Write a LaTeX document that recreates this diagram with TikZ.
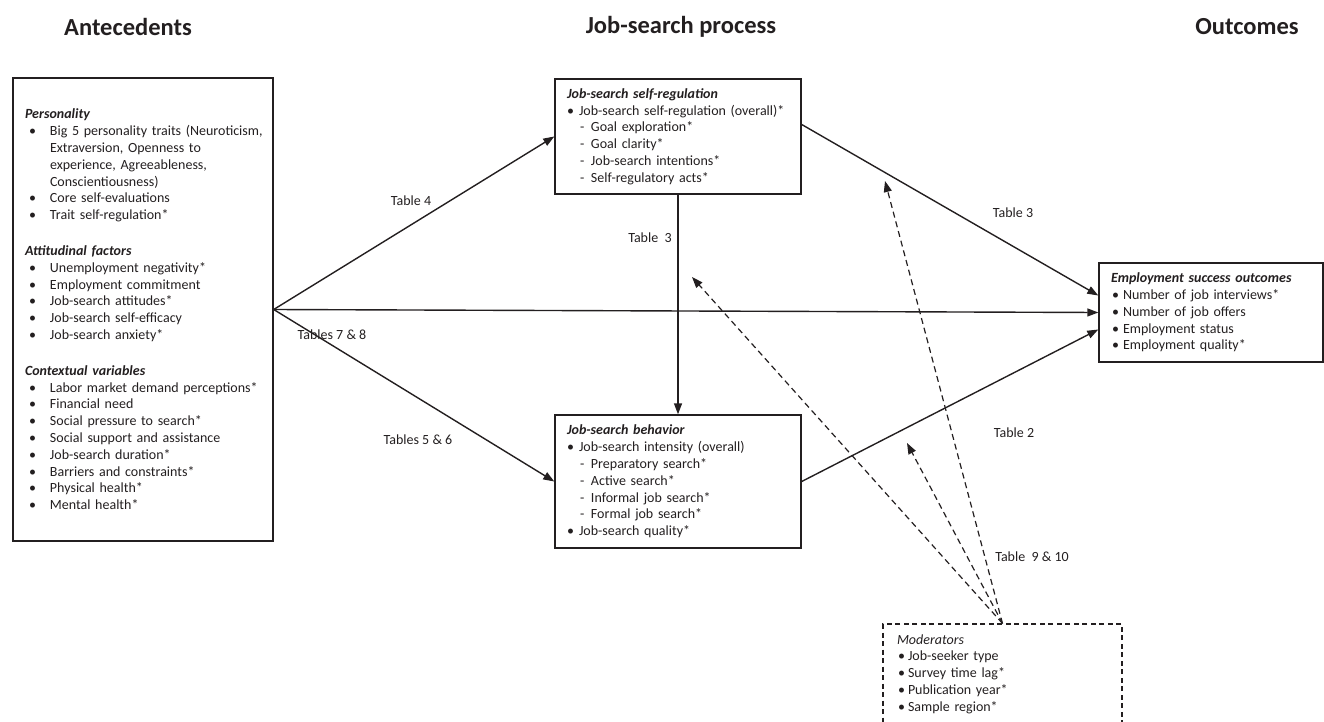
\documentclass[tikz,border=0pt]{standalone}
\usepackage{fontspec}
\setmainfont{Carlito}
\usetikzlibrary{arrows.meta}
\definecolor{ink}{RGB}{35,31,32}
\newcommand{\listmark}[3]{\makebox[#2][l]{\hspace*{#1}#3}}

\begin{document}
\begin{tikzpicture}[x=1pt, y=-1pt,
	every node/.style={text=ink, font=\fontsize{14}{16.8}\selectfont},
	box/.style={draw=ink, line width=1.4pt, align=left, inner xsep=12pt, inner ysep=0pt},
	modbox/.style={box, inner xsep=14pt, line width=1.1pt, dash pattern=on 5pt off 3.5pt},
	heading/.style={font=\fontsize{24.5}{29}\selectfont\bfseries},
	tablabel/.style={inner sep=0pt},
	link/.style={draw=ink, line width=1.4pt, -{Triangle[length=11pt, width=8pt]}},
	modlink/.style={link, line width=1.2pt, dash pattern=on 6pt off 4pt}
]
	\useasboundingbox (0,0) rectangle (1324,722);

	\node [heading] (hante) at (128,27) {Antecedents};
	\node [heading] (hproc) at (681,27) {Job-search process};
	\node [heading] (hout) at (1247,27) {Outcomes};

	\node [box, text width=236pt, minimum height=463pt] (ante) at (143,309.5) {%
		\textbf{\textit{Personality}}\\
		\listmark{4pt}{25pt}{•}\mbox{Big 5 personality traits (Neuroticism,}\\
		\hspace*{25pt}Extraversion, Openness to\\
		\hspace*{25pt}experience, Agreeableness,\\
		\hspace*{25pt}Conscientiousness)\\
		\listmark{4pt}{25pt}{•}Core self-evaluations\\
		\listmark{4pt}{25pt}{•}Trait self-regulation*\\[19pt]
		\textbf{\textit{Attitudinal factors}}\\
		\listmark{4pt}{25pt}{•}Unemployment negativity*\\
		\listmark{4pt}{25pt}{•}Employment commitment\\
		\listmark{4pt}{25pt}{•}Job-search attitudes*\\
		\listmark{4pt}{25pt}{•}Job-search self-efficacy\\
		\listmark{4pt}{25pt}{•}Job-search anxiety*\\[19pt]
		\textbf{\textit{Contextual variables}}\\
		\listmark{4pt}{25pt}{•}\mbox{Labor market demand perceptions*}\\
		\listmark{4pt}{25pt}{•}Financial need\\
		\listmark{4pt}{25pt}{•}Social pressure to search*\\
		\listmark{4pt}{25pt}{•}Social support and assistance\\
		\listmark{4pt}{25pt}{•}Job-search duration*\\
		\listmark{4pt}{25pt}{•}Barriers and constraints*\\
		\listmark{4pt}{25pt}{•}Physical health*\\
		\listmark{4pt}{25pt}{•}Mental health*};

	\node [box, text width=222pt, minimum height=115pt] (selfreg) at (678,136.5) {%
		\textbf{\textit{Job-search self-regulation}}\\
		\listmark{0pt}{12pt}{•}Job-search self-regulation (overall)*\\
		\listmark{13pt}{24pt}{-}Goal exploration*\\
		\listmark{13pt}{24pt}{-}Goal clarity*\\
		\listmark{13pt}{24pt}{-}Job-search intentions*\\
		\listmark{13pt}{24pt}{-}Self-regulatory acts*};

	\node [box, text width=222pt, minimum height=133pt] (behav) at (678,481.5) {%
		\textbf{\textit{Job-search behavior}}\\
		\listmark{0pt}{12pt}{•}Job-search intensity (overall)\\
		\listmark{13pt}{24pt}{-}Preparatory search*\\
		\listmark{13pt}{24pt}{-}Active search*\\
		\listmark{13pt}{24pt}{-}Informal job search*\\
		\listmark{13pt}{24pt}{-}Formal job search*\\
		\listmark{0pt}{12pt}{•}Job-search quality*};

	\node [box, text width=200pt, minimum height=99pt] (outc) at (1211,312.5) {%
		\textbf{\textit{Employment success outcomes}}\\
		\listmark{1pt}{12pt}{•}Number of job interviews*\\
		\listmark{1pt}{12pt}{•}Number of job offers\\
		\listmark{1pt}{12pt}{•}Employment status\\
		\listmark{1pt}{12pt}{•}Employment quality*};

	\node [modbox, text width=211pt, minimum height=100pt] (mod) at (1002.5,674) {%
		\textit{Moderators}\\
		\listmark{1pt}{11pt}{•}Job-seeker type\\
		\listmark{1pt}{11pt}{•}Survey time lag*\\
		\listmark{1pt}{11pt}{•}Publication year*\\
		\listmark{1pt}{11pt}{•}Sample region*};

	\draw [link] (ante.east) -- (selfreg.west);
	\draw [link] (ante.east) -- (behav.west);
	\draw [link] (ante.east) -- (outc.west);
	\draw [link] (selfreg.south) -- (behav.north);
	\draw [link] ([yshift=12pt]selfreg.east) -- ([yshift=17pt]outc.west);
	\draw [link] (behav.east) -- ([yshift=-17pt]outc.west);

	\coordinate (m1) at (885,181);
	\coordinate (m2) at (692,277);
	\coordinate (m3) at (907,443);
	\draw [modlink] (mod.north) -- (m1);
	\draw [modlink] (mod.north) -- (m2);
	\draw [modlink] (mod.north) -- (m3);

	\node [tablabel] (t4) at (411,201) {Table 4};
	\node [tablabel] (t78) at (332,335) {Tables 7 \& 8};
	\node [tablabel] (t56) at (418,440) {Tables 5 \& 6};
	\node [tablabel] (t3a) at (650,238) {Table\ \ 3};
	\node [tablabel] (t3b) at (1013,213) {Table 3};
	\node [tablabel] (t2) at (1014,433) {Table 2};
	\node [tablabel] (t910) at (1032,557) {Table\ \ 9 \& 10};
\end{tikzpicture}
\end{document}
